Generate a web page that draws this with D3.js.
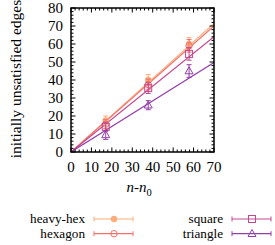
<!DOCTYPE html>
<html>
<head>
<meta charset="utf-8">
<script src="https://cdn.jsdelivr.net/npm/d3@7"></script>
<style>
body { margin: 0; background: #fff; }
</style>
</head>
<body>
<svg id="chart" width="275" height="245" font-family="'Liberation Serif', 'Times New Roman', Times, serif"></svg>
<script>
// values
const xs = [17, 37.8, 57.8];
const seriesNames = ["heavy-hex", "hexagon", "square", "triangle"];
const seriesColors = ["#fdac7c", "#f2716a", "#c4488f", "#933fa9"];
const seriesMarkers = ["dot", "circle", "square", "triangle"];
const heavyHexY = [17.5, 40, 60];
const hexagonY = [15.5, 37.5, 59];
const squareY = [14, 35.5, 54.5];
const triangleY = [9.5, 26, 45];
const heavyHexErr = [2.5, 3, 3.5];
const hexagonErr = [2.5, 3, 3.5];
const squareErr = [2.5, 3, 3.5];
const triangleErr = [2.5, 2.5, 3.5];
const fitSlopes = [1.02, 1.0, 0.915, 0.71];
const xTicks = [0, 10, 20, 30, 40, 50, 60, 70];
const yTicks = [0, 10, 20, 30, 40, 50, 60, 70, 80];

const allY = [heavyHexY, hexagonY, squareY, triangleY];
const allErr = [heavyHexErr, hexagonErr, squareErr, triangleErr];

const svg = d3.select("#chart");
const pLeft = 71, pRight = 214, pTop = 8, pBottom = 152;
const serif = "'Liberation Serif', 'Times New Roman', Times, serif";

const x = d3.scaleLinear().domain([0, 70]).range([pLeft, pRight]);
const y = d3.scaleLinear().domain([0, 80]).range([pBottom, pTop]);

svg.append("defs").append("clipPath").attr("id", "clip")
	.append("rect").attr("x", pLeft).attr("y", pTop)
	.attr("width", pRight - pLeft).attr("height", pBottom - pTop);

// fit lines
const plot = svg.append("g").attr("clip-path", "url(#clip)");
fitSlopes.forEach((s, i) => {
	plot.append("line")
		.attr("x1", x(0)).attr("y1", y(0))
		.attr("x2", x(70)).attr("y2", y(70 * s))
		.attr("stroke", seriesColors[i]).attr("stroke-width", 1.2);
});

function drawMarker(g, type, cx, cy, color) {
	if (type == "dot") {
		g.append("circle").attr("cx", cx).attr("cy", cy).attr("r", 3.2)
			.attr("fill", color);
	} else if (type == "circle") {
		g.append("circle").attr("cx", cx).attr("cy", cy).attr("r", 3.2)
			.attr("fill", "none").attr("stroke", color).attr("stroke-width", 1);
	} else if (type == "square") {
		g.append("rect").attr("x", cx - 3.5).attr("y", cy - 3.5)
			.attr("width", 7).attr("height", 7)
			.attr("fill", "none").attr("stroke", color).attr("stroke-width", 1);
	} else {
		g.append("path")
			.attr("d", `M${cx},${cy - 4.2}L${cx + 4},${cy + 2.8}L${cx - 4},${cy + 2.8}Z`)
			.attr("fill", "none").attr("stroke", color).attr("stroke-width", 1);
	}
}

// points with error bars
allY.forEach((ys, i) => {
	const c = seriesColors[i];
	ys.forEach((v, j) => {
		const e = allErr[i][j];
		const px = x(xs[j]);
		plot.append("line").attr("x1", px).attr("x2", px)
			.attr("y1", y(v - e)).attr("y2", y(v + e))
			.attr("stroke", c).attr("stroke-width", 1);
		[v - e, v + e].forEach(t => {
			plot.append("line").attr("x1", px - 2.5).attr("x2", px + 2.5)
				.attr("y1", y(t)).attr("y2", y(t))
				.attr("stroke", c).attr("stroke-width", 1);
		});
		drawMarker(plot, seriesMarkers[i], px, y(v), c);
	});
});

// frame and ticks (mirrored, inward)
const ax = svg.append("g").attr("stroke", "#000").attr("stroke-width", 1);
d3.range(0, 70.1, 2).forEach(v => {
	const len = v % 10 == 0 ? 4.5 : 2.5;
	ax.append("line").attr("x1", x(v)).attr("x2", x(v)).attr("y1", pBottom).attr("y2", pBottom - len);
	ax.append("line").attr("x1", x(v)).attr("x2", x(v)).attr("y1", pTop).attr("y2", pTop + len);
});
d3.range(0, 80.1, 2).forEach(v => {
	const len = v % 10 == 0 ? 4.5 : 2.5;
	ax.append("line").attr("x1", pLeft).attr("x2", pLeft + len).attr("y1", y(v)).attr("y2", y(v));
	ax.append("line").attr("x1", pRight).attr("x2", pRight - len).attr("y1", y(v)).attr("y2", y(v));
});
ax.append("rect").attr("x", pLeft).attr("y", pTop)
	.attr("width", pRight - pLeft).attr("height", pBottom - pTop)
	.attr("fill", "none").attr("stroke-width", 1.5);

svg.selectAll(".xt").data(xTicks).enter().append("text")
	.attr("x", d => x(d)).attr("y", 172)
	.attr("font-family", serif)
	.attr("text-anchor", "middle").attr("font-size", 15)
	.text(d => d);
svg.selectAll(".yt").data(yTicks).enter().append("text")
	.attr("x", 63).attr("y", d => y(d) + 5)
	.attr("font-family", serif)
	.attr("text-anchor", "end").attr("font-size", 15)
	.text(d => d);

// axis labels
svg.append("text")
	.attr("transform", `translate(21,79) rotate(-90)`)
	.attr("font-family", serif)
	.attr("text-anchor", "middle").attr("font-size", 15.5)
	.text("initially unsatisfied edges");

const xl = svg.append("text").attr("x", 139).attr("y", 192)
	.attr("font-family", serif)
	.attr("text-anchor", "middle").attr("font-size", 15);
xl.append("tspan").attr("font-style", "italic").text("n");
xl.append("tspan").text("-");
xl.append("tspan").attr("font-style", "italic").text("n");
xl.append("tspan").attr("dy", 4).attr("font-size", 10.5).text("0");

// legend
const legendPos = [[85, 219], [85, 233.7], [223, 219], [223, 233.7]];
seriesNames.forEach((name, i) => {
	const [lx, ly] = legendPos[i];
	const c = seriesColors[i];
	svg.append("text").attr("x", lx).attr("y", ly + 4.3)
		.attr("font-family", serif)
		.attr("text-anchor", "end").attr("font-size", 13.2).text(name);
	const x1 = lx + 9, x2 = lx + 48, g = svg.append("g");
	g.append("line").attr("x1", x1).attr("x2", x2).attr("y1", ly).attr("y2", ly)
		.attr("stroke", c).attr("stroke-width", 1.2);
	[x1, x2].forEach(px => {
		g.append("line").attr("x1", px).attr("x2", px).attr("y1", ly - 2.5).attr("y2", ly + 2.5)
			.attr("stroke", c).attr("stroke-width", 1);
	});
	drawMarker(g, seriesMarkers[i], lx + 29, ly, c);
});
</script>
</body>
</html>
